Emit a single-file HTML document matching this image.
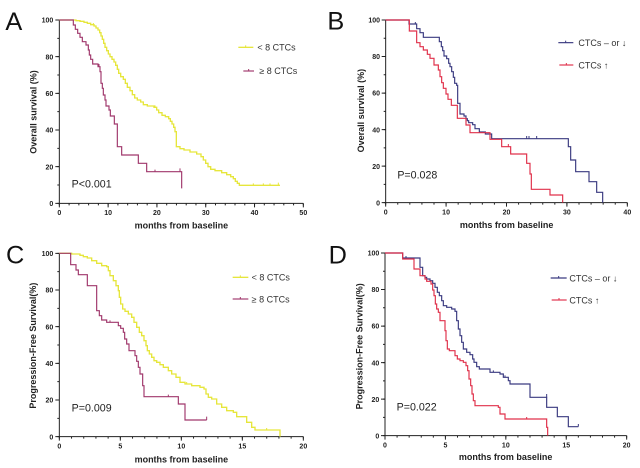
<!DOCTYPE html>
<html><head><meta charset="utf-8"><style>
html,body{margin:0;padding:0;background:#fff;width:640px;height:468px;overflow:hidden}
svg{display:block}
</style></head><body>
<svg width="640" height="468" viewBox="0 0 1920 1404" xmlns="http://www.w3.org/2000/svg" font-family="Liberation Sans, Arial, sans-serif">
<rect width="1920" height="1404" fill="#fff"/>

<!-- PANEL A -->
<g>
 <text x="16" y="90" font-size="76" fill="#111">A</text>
 <path d="M178,60V610H910" stroke="#222" stroke-width="3" fill="none"/>
 <line x1="176.5" y1="613" x2="912" y2="613" stroke="#222" stroke-width="6" stroke-dasharray="3 26.28"/>
 <line x1="176.5" y1="616" x2="912" y2="616" stroke="#222" stroke-width="12" stroke-dasharray="3 143.4"/>
 <line x1="175" y1="611.5" x2="175" y2="58" stroke="#222" stroke-width="6" stroke-dasharray="3 52"/>
 <line x1="172" y1="611.5" x2="172" y2="58" stroke="#222" stroke-width="12" stroke-dasharray="3 107"/>
 <g font-size="21" font-weight="bold" fill="#222" text-anchor="end">
  <text x="160" y="68">100</text><text x="160" y="178">80</text><text x="160" y="288">60</text>
  <text x="160" y="398">40</text><text x="160" y="508">20</text><text x="160" y="618">0</text>
 </g>
 <g font-size="21" font-weight="bold" fill="#222" text-anchor="middle">
  <text x="178" y="645">0</text><text x="324.4" y="645">10</text><text x="470.8" y="645">20</text>
  <text x="617.2" y="645">30</text><text x="763.6" y="645">40</text><text x="910" y="645">50</text>
 </g>
 <text x="544" y="686" font-size="27" font-weight="bold" fill="#222" text-anchor="middle">months from baseline</text>
 <text transform="translate(110,336) rotate(-90)" font-size="27" font-weight="bold" fill="#222" text-anchor="middle">Overall survival (%)</text>
 <text x="215" y="562" font-size="32" fill="#222">P&lt;0.001</text>
 <line x1="715" y1="142" x2="760" y2="142" stroke="#e6e63c" stroke-width="4"/><line x1="737" y1="136" x2="737" y2="142" stroke="#e6e63c" stroke-width="3"/>
 <text x="772" y="152" font-size="27" fill="#333">&lt; 8 CTCs</text>
 <line x1="730" y1="213" x2="762" y2="213" stroke="#a0386c" stroke-width="3.5"/><line x1="746" y1="207" x2="746" y2="213" stroke="#a0386c" stroke-width="3"/>
 <text x="778" y="222" font-size="27" fill="#333">≥  8 CTCs</text>
 <path d="M178,60H228V62H240V64H252V67H262V70H272V74H282V78H288V84H294V90H299V98H303V108H307V118H311V130H315V142H320V152H325V162H330V170H336V178H342V186H347V196H352V208H356V220H362V230H370V238H376V250H382V262H390V272H397V284H404V294H412V300H422V306H430V314H442V318H462V322H470V330H476V338H486V346H496V350H506V356H511V364H516V372H521V382H525V395H529V440H540V446H552V450H570V456H590V462H603V470H610V480H617V490H624V500H632V508H645V512H665V518H680V524H692V530H700V536H706V544H712V550H718V556H840" stroke="#e6e63c" stroke-width="4" fill="none"/>
 <path d="M280,75V69M465,322V316M760,556V550M790,556V550M810,556V550M835,556V548" stroke="#e6e63c" stroke-width="3"/>
 <path d="M178,60H220V75H226V88H233V100H240V112H247V125H258V135H265V150H268V165H272V178H278V192H294V200H300V215H303V250H307V265H310V285H315V300H318V318H327V330H331V348H343V372H352V440H365V465H415V490H440V515H545V565" stroke="#a0386c" stroke-width="3.5" fill="none"/>
 <path d="M297,200V192M465,515V509M540,515V505" stroke="#a0386c" stroke-width="3"/>
</g>

<!-- PANEL B -->
<g transform="translate(960,0)">
 <text x="22" y="88" font-size="76" fill="#111">B</text>
 <path d="M197,60V608H922" stroke="#222" stroke-width="3" fill="none"/>
 <line x1="195.5" y1="611" x2="924" y2="611" stroke="#222" stroke-width="6" stroke-dasharray="3 33.25"/>
 <line x1="195.5" y1="614" x2="924" y2="614" stroke="#222" stroke-width="12" stroke-dasharray="3 178.25"/>
 <line x1="194" y1="609.5" x2="194" y2="58" stroke="#222" stroke-width="6" stroke-dasharray="3 51.8"/>
 <line x1="191" y1="609.5" x2="191" y2="58" stroke="#222" stroke-width="12" stroke-dasharray="3 106.6"/>
 <g font-size="21" font-weight="bold" fill="#222" text-anchor="end">
  <text x="180" y="68">100</text><text x="180" y="177.6">80</text><text x="180" y="287.2">60</text>
  <text x="180" y="396.8">40</text><text x="180" y="506.4">20</text><text x="180" y="616">0</text>
 </g>
 <g font-size="21" font-weight="bold" fill="#222" text-anchor="middle">
  <text x="197" y="643">0</text><text x="378.25" y="643">10</text><text x="559.5" y="643">20</text>
  <text x="740.75" y="643">30</text><text x="922" y="643">40</text>
 </g>
 <text x="560" y="684" font-size="27" font-weight="bold" fill="#222" text-anchor="middle">months from baseline</text>
 <text transform="translate(132,332) rotate(-90)" font-size="27" font-weight="bold" fill="#222" text-anchor="middle">Overall survival (%)</text>
 <text x="232" y="535" font-size="32" fill="#222">P=0.028</text>
 <line x1="715" y1="128" x2="760" y2="128" stroke="#3a3a80" stroke-width="3.5"/><line x1="737" y1="122" x2="737" y2="128" stroke="#3a3a80" stroke-width="3"/>
 <text x="775" y="138" font-size="27" fill="#333">CTCs – or ↓</text>
 <line x1="718" y1="195" x2="760" y2="195" stroke="#e0304a" stroke-width="3.5"/><line x1="739" y1="189" x2="739" y2="195" stroke="#e0304a" stroke-width="3"/>
 <text x="775" y="205" font-size="27" fill="#333">CTCs ↑</text>
 <path d="M197,60H267V72H290V86H300V98H310V112H358V125H364V140H368V152H372V168H380V176H386V190H390V200H395V215H400V232H404V250H410V256H413V310H420V342H432V348H438V356H442V362H446V368H458V374H465V386H478V396H496V402H515V416H745V440H752V480H767V515H807V545H830V577H848V608" stroke="#3a3a80" stroke-width="3.5" fill="none"/>
 <path d="M620,416V408M627,416V408M650,416V408M286,72V66" stroke="#3a3a80" stroke-width="3"/>
 <path d="M197,60H268V93H290V128H300V140H310V150H322V163H330V175H342V195H355V210H360V230H365V248H370V265H378V282H384V298H394V316H412V355H438V375H450V398H510V418H545V440H572V462H620V490H630V522H634V568H690V585H728V608" stroke="#e0304a" stroke-width="3.5" fill="none"/>
 <path d="M565,440V432" stroke="#e0304a" stroke-width="3"/>
</g>

<!-- PANEL C -->
<g transform="translate(0,702)">
 <text x="18" y="88" font-size="76" fill="#111">C</text>
 <path d="M178,58V608H910" stroke="#222" stroke-width="3" fill="none"/>
 <line x1="176.5" y1="611" x2="912" y2="611" stroke="#222" stroke-width="6" stroke-dasharray="3 33.6"/>
 <line x1="176.5" y1="614" x2="912" y2="614" stroke="#222" stroke-width="12" stroke-dasharray="3 180"/>
 <line x1="175" y1="609.5" x2="175" y2="56" stroke="#222" stroke-width="6" stroke-dasharray="3 52"/>
 <line x1="172" y1="609.5" x2="172" y2="56" stroke="#222" stroke-width="12" stroke-dasharray="3 107"/>
 <g font-size="21" font-weight="bold" fill="#222" text-anchor="end">
  <text x="160" y="66">100</text><text x="160" y="176">80</text><text x="160" y="286">60</text>
  <text x="160" y="396">40</text><text x="160" y="506">20</text><text x="160" y="616">0</text>
 </g>
 <g font-size="21" font-weight="bold" fill="#222" text-anchor="middle">
  <text x="178" y="643">0</text><text x="361" y="643">5</text><text x="544" y="643">10</text>
  <text x="727" y="643">15</text><text x="910" y="643">20</text>
 </g>
 <text x="544" y="685" font-size="27" font-weight="bold" fill="#222" text-anchor="middle">months from baseline</text>
 <text transform="translate(108,335) rotate(-90)" font-size="27" font-weight="bold" fill="#222" text-anchor="middle">Progression-Free Survival(%)</text>
 <text x="215" y="533" font-size="32" fill="#222">P=0.009</text>
 <line x1="698" y1="130" x2="745" y2="130" stroke="#e6e63c" stroke-width="4"/><line x1="721" y1="124" x2="721" y2="130" stroke="#e6e63c" stroke-width="3"/>
 <text x="755" y="140" font-size="27" fill="#333">&lt; 8 CTCs</text>
 <line x1="698" y1="195" x2="745" y2="195" stroke="#a0386c" stroke-width="3.5"/><line x1="721" y1="189" x2="721" y2="195" stroke="#a0386c" stroke-width="3"/>
 <text x="755" y="205" font-size="27" fill="#333">≥  8 CTCs</text>
 <path d="M178,58H215V60H240V64H250V68H262V72H275V80H290V88H305V95H320V98H325V110H330V125H340V140H348V155H355V170H358V190H362V210H368V225H375V232H385V240H395V250H402V265H410V280H418V295H425V305H432V320H438V335H442V350H448V360H455V370H462V380H470V385H480V392H490V400H505V410H515V420H528V430H540V445H555V450H575V455H600V460H612V465H618V480H625V490H635V495H650V510H665V520H680V530H700V535H710V548H725V548H740V565H755V580H765V588H840V608" stroke="#e6e63c" stroke-width="4" fill="none"/>
 <path d="M330,125V119M470,385V379M560,450V444M800,588V582" stroke="#e6e63c" stroke-width="3"/>
 <path d="M178,58H212V92H228V108H235V122H262V155H290V230H298V245H305V258H320V265H355V275H362V283H370V295H374V315H380V330H387V350H405V365H410V382H415V400H420V420H428V455H432V488H535V510H555V558H620" stroke="#a0386c" stroke-width="3.5" fill="none"/>
 <path d="M330,265V259M505,488V482M620,558V548" stroke="#a0386c" stroke-width="3"/>
</g>

<!-- PANEL D -->
<g transform="translate(960,702)">
 <text x="26" y="88" font-size="76" fill="#111">D</text>
 <path d="M195,57V605H920" stroke="#222" stroke-width="3" fill="none"/>
 <line x1="193.5" y1="608" x2="922" y2="608" stroke="#222" stroke-width="6" stroke-dasharray="3 33.25"/>
 <line x1="193.5" y1="611" x2="922" y2="611" stroke="#222" stroke-width="12" stroke-dasharray="3 178.25"/>
 <line x1="192" y1="606.5" x2="192" y2="55" stroke="#222" stroke-width="6" stroke-dasharray="3 51.8"/>
 <line x1="189" y1="606.5" x2="189" y2="55" stroke="#222" stroke-width="12" stroke-dasharray="3 106.6"/>
 <g font-size="21" font-weight="bold" fill="#222" text-anchor="end">
  <text x="178" y="65">100</text><text x="178" y="174.6">80</text><text x="178" y="284.2">60</text>
  <text x="178" y="393.8">40</text><text x="178" y="503.4">20</text><text x="178" y="613">0</text>
 </g>
 <g font-size="21" font-weight="bold" fill="#222" text-anchor="middle">
  <text x="195" y="640">0</text><text x="376.25" y="640">5</text><text x="557.5" y="640">10</text>
  <text x="738.75" y="640">15</text><text x="920" y="640">20</text>
 </g>
 <text x="557" y="678" font-size="27" font-weight="bold" fill="#222" text-anchor="middle">months from baseline</text>
 <text transform="translate(128,337) rotate(-90)" font-size="27" font-weight="bold" fill="#222" text-anchor="middle">Progression-Free Survival(%)</text>
 <text x="230" y="530" font-size="32" fill="#222">P=0.022</text>
 <line x1="692" y1="132" x2="740" y2="132" stroke="#3a3a80" stroke-width="3.5"/><line x1="716" y1="126" x2="716" y2="132" stroke="#3a3a80" stroke-width="3"/>
 <text x="748" y="142" font-size="27" fill="#333">CTCs – or ↓</text>
 <line x1="695" y1="198" x2="740" y2="198" stroke="#e0304a" stroke-width="3.5"/><line x1="717" y1="192" x2="717" y2="198" stroke="#e0304a" stroke-width="3"/>
 <text x="748" y="208" font-size="27" fill="#333">CTCs ↑</text>
 <path d="M195,57H248V72H300V100H308V125H315V130H320V135H330V140H338V148H345V160H352V175H358V185H365V200H370V215H380V220H395V225H405V232H410V260H415V285H420V305H425V325H430V345H440V355H450V362H458V375H462V385H470V398H478V405H500V405H510V415H540V420H550V430H565V440H570V450H630V490H680V520H712V548H745V578H775" stroke="#3a3a80" stroke-width="3.5" fill="none"/>
 <path d="M258,72V66M520,415V409M555,430V424M680,490V480M775,578V570" stroke="#3a3a80" stroke-width="3"/>
 <path d="M195,57H248V75H282V105H300V125H315V135H320V142H333V150H338V168H342V185H346V210H350V225H355V235H360V260H375V290H378V320H382V345H388V350H405V365H412V375H420V380H430V385H438V395H443V410H447V435H452V455H456V480H460V500H465V515H535V520H540V540H555V555H680V580H683V605" stroke="#e0304a" stroke-width="3.5" fill="none"/>
 <path d="M620,555V549" stroke="#e0304a" stroke-width="3"/>
</g>
</svg>
</body></html>
